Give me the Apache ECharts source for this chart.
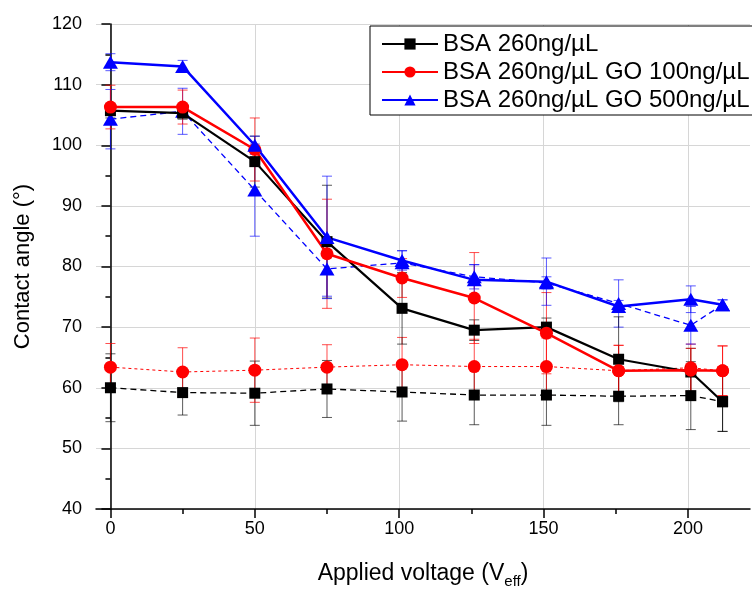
<!DOCTYPE html>
<html><head><meta charset="utf-8">
<script src="https://cdn.jsdelivr.net/npm/echarts@6/dist/echarts.min.js"></script>
<style>html,body{margin:0;padding:0;background:#fff}#c{width:752px;height:589px}</style>
</head><body><div id="c"></div>
<script>
// ---- data ----
const voltages = [0, 25, 50, 75, 101, 126, 151, 176, 201, 212];

const bsa = [105.7, 105.3, 97.3, 84.1, 73.1, 69.5, 70.0, 64.7, 62.6, 57.7];
const bsaErr = [1.2, 1.0, 4.2, 9.3, 5.9, 1.7, 1.5, 7.0, 3.9, 4.9];

const go100 = [106.3, 106.3, 99.3, 82.1, 78.1, 74.8, 69.0, 62.8, 62.9, 62.8];
const go100Err = [3.6, 2.8, 5.2, 9.0, 3.2, 7.5, 6.7, 4.2, 3.6, 4.1];

const go500 = [113.7, 113.0, 100.0, 84.8, 81.0, 77.8, 77.5, 73.4, 74.6, 73.7];
const go500Err = [1.4, 1.0, 1.5, 10.1, 1.6, 2.5, 3.9, 1.0, 2.2, 0.8];

const bsaDash = [60.0, 59.2, 59.1, 59.8, 59.3, 58.8, 58.8, 58.6, 58.7, 57.7];
const bsaDashErr = [5.6, 3.7, 5.3, 4.7, 4.8, 4.9, 5.0, 4.7, 5.6, 4.9];

const go100Dot = [63.4, 62.6, 62.9, 63.4, 63.8, 63.5, 63.5, 62.8, 63.3, 62.8];
const go100DotErr = [3.9, 4.0, 5.3, 3.7, 4.5, 4.5, 4.7, 4.2, 3.9, 4.1];

const go500Dash = [104.3, 105.6, 92.6, 79.6, 80.6, 78.3, 77.3, 73.9, 70.3, 73.7];
const go500DashErr = [4.9, 3.8, 7.6, 4.5, 2.0, 2.0, 1.0, 3.9, 3.1, 0.8];

const names = ['BSA 260ng/\u00B5L', 'BSA 260ng/\u00B5L GO 100ng/\u00B5L', 'BSA 260ng/\u00B5L GO 500ng/\u00B5L'];
const xMajorTicks = [0, 50, 100, 150, 200];
const xMinorTicks = [25, 75, 125, 175];

// ---- helpers ----
const FONT = '"Liberation Sans", Arial, sans-serif';
function pairs(vals) { return voltages.map((x, i) => [x, vals[i]]); }
function errData(vals, errs) { return voltages.map((x, i) => [x, vals[i] - errs[i], vals[i] + errs[i]]); }
function errSeries(vals, errs, color) {
  return {
    type: 'custom', xAxisIndex: 0, yAxisIndex: 0, z: 1, silent: true,
    data: errData(vals, errs),
    renderItem: function (params, api) {
      const lo = api.coord([api.value(0), api.value(1)]);
      const hi = api.coord([api.value(0), api.value(2)]);
      const w = 5;
      const st = { stroke: color, lineWidth: 1 };
      return { type: 'group', children: [
        { type: 'line', shape: { x1: lo[0], y1: lo[1], x2: hi[0], y2: hi[1] }, style: st },
        { type: 'line', shape: { x1: lo[0] - w, y1: lo[1], x2: lo[0] + w, y2: lo[1] }, style: st },
        { type: 'line', shape: { x1: hi[0] - w, y1: hi[1], x2: hi[0] + w, y2: hi[1] }, style: st }
      ]};
    }
  };
}
function lineSeries(name, vals, color, symbol, size, lineType, width, showSym, z) {
  return {
    name: name, type: 'line', xAxisIndex: 0, yAxisIndex: 0, z: z,
    data: pairs(vals), symbol: symbol, symbolSize: size, showSymbol: showSym,
    itemStyle: { color: color }, lineStyle: { color: color, width: width, type: lineType },
    animation: false
  };
}

const chart = echarts.init(document.getElementById('c'), null, { renderer: 'canvas' });
const axisCommon = {
  axisLine: { show: true, lineStyle: { color: '#000', width: 1.5 } },
  axisTick: { show: true, inside: false, length: 9, lineStyle: { color: '#000', width: 1.5 } },
  axisLabel: { color: '#000', fontSize: 18, fontFamily: FONT },
  splitLine: { show: true, lineStyle: { color: '#d6d6d6', width: 1 } }
};
chart.setOption({
  animation: false,
  backgroundColor: '#fff',
  grid: { left: 96, right: 2, top: 24, bottom: 80, containLabel: false, outerBoundsMode: 'none' },
  legend: {
    data: names, orient: 'vertical', left: 370, top: 26,
    padding: [6, 12, 3, 11], itemGap: 4, itemWidth: 56, itemHeight: 14,
    borderColor: '#000', borderWidth: 1, backgroundColor: '#fff',
    textStyle: { color: '#000', fontSize: 24, fontFamily: FONT },
    selectedMode: false
  },
  xAxis: [
    Object.assign({}, axisCommon, {
      type: 'value', position: 'bottom', min: -5, max: 221.5,
      axisTick: Object.assign({}, axisCommon.axisTick, { customValues: xMajorTicks }),
      axisLabel: Object.assign({}, axisCommon.axisLabel, { customValues: xMajorTicks, margin: 11 }),
      name: 'Applied voltage (V{sub|eff})', nameLocation: 'middle', nameGap: 50,
      nameTextStyle: { color: '#000', fontSize: 23, fontFamily: FONT, lineHeight: 30,
        rich: { sub: { fontSize: 15, fontFamily: FONT, color: '#000', verticalAlign: 'bottom', lineHeight: 12 } } }
    }),
    {
      type: 'value', position: 'bottom', offset: 0, min: -5, max: 221.5,
      axisLine: { show: false },
      axisTick: { show: true, inside: false, length: 5, customValues: xMinorTicks, lineStyle: { color: '#000', width: 1.5 } },
      axisLabel: { show: false }, splitLine: { show: false }
    }
  ],
  yAxis: Object.assign({}, axisCommon, {
    type: 'value', min: 40, max: 120, interval: 10,
    axisLabel: Object.assign({}, axisCommon.axisLabel, { margin: 14 }),
    minorTick: { show: true, splitNumber: 2, length: 5, lineStyle: { color: '#000', width: 1.5 } },
    name: 'Contact angle (\u00B0)', nameLocation: 'middle', nameGap: 62,
    nameTextStyle: { color: '#000', fontSize: 22, fontFamily: FONT }
  }),
  series: [
    errSeries(bsaDash, bsaDashErr, 'rgba(0,0,0,0.65)'),
    errSeries(go100Dot, go100DotErr, 'rgba(255,0,0,0.7)'),
    errSeries(go500Dash, go500DashErr, 'rgba(0,0,255,0.65)'),
    errSeries(bsa, bsaErr, 'rgba(0,0,0,0.65)'),
    errSeries(go100, go100Err, 'rgba(255,0,0,0.7)'),
    errSeries(go500, go500Err, 'rgba(0,0,255,0.65)'),
    lineSeries('bsaDash', bsaDash, '#000', 'rect', 11, [6, 4], 1.3, true, 2),
    lineSeries('go100Dot', go100Dot, '#ff0000', 'circle', 13, [3, 3], 1, true, 2),
    lineSeries('go500Dash', go500Dash, '#0000ff', 'triangle', [15, 13], [6, 4], 1.3, true, 2),
    lineSeries(names[0], bsa, '#000', 'rect', 11, 'solid', 2.2, true, 3),
    lineSeries(names[1], go100, '#ff0000', 'circle', 13, 'solid', 2.5, true, 3),
    lineSeries(names[2], go500, '#0000ff', 'triangle', [15, 13], 'solid', 2.5, true, 3)
  ]
});
</script>
</body></html>
